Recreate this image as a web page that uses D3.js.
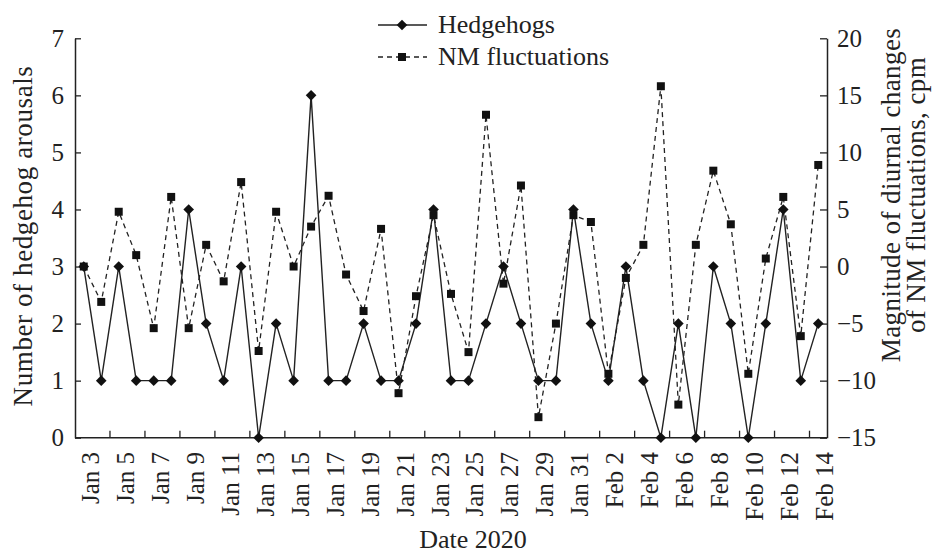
<!DOCTYPE html>
<html>
<head>
<meta charset="utf-8">
<script src="https://cdn.jsdelivr.net/npm/d3@7"></script>
<style>
  html, body { margin: 0; padding: 0; background: #fff; }
  svg { display: block; }
</style>
</head>
<body>
<svg id="chart" width="932" height="553"></svg>
<script>
// ---- Data ----
const dates = [
  "Jan 3","Jan 4","Jan 5","Jan 6","Jan 7","Jan 8","Jan 9","Jan 10","Jan 11","Jan 12",
  "Jan 13","Jan 14","Jan 15","Jan 16","Jan 17","Jan 18","Jan 19","Jan 20","Jan 21","Jan 22",
  "Jan 23","Jan 24","Jan 25","Jan 26","Jan 27","Jan 28","Jan 29","Jan 30","Jan 31",
  "Feb 1","Feb 2","Feb 3","Feb 4","Feb 5","Feb 6","Feb 7","Feb 8","Feb 9","Feb 10",
  "Feb 11","Feb 12","Feb 13","Feb 14"
];
const hedgehogs = [
  3,1,3,1,1,1,4,2,1,3,
  0,2,1,6,1,1,2,1,1,2,
  4,1,1,2,3,2,1,1,4,
  2,1,3,1,0,2,0,3,2,0,
  2,4,1,2
];
const nmFluctuations = [
  0,-3.1,4.8,1.0,-5.4,6.1,-5.4,1.9,-1.3,7.4,
  -7.4,4.8,0,3.5,6.2,-0.7,-3.9,3.3,-11.1,-2.6,
  4.5,-2.4,-7.5,13.3,-1.5,7.1,-13.2,-5.0,4.5,
  3.9,-9.4,-1.0,1.9,15.8,-12.1,1.9,8.4,3.7,-9.4,
  0.7,6.1,-6.1,8.9
];
const leftTicks = [0,1,2,3,4,5,6,7];
const rightTicks = [-15,-10,-5,0,5,10,15,20];
const seriesNames = ["Hedgehogs", "NM fluctuations"];
const xTitle = "Date 2020";
const yLeftTitle = "Number of hedgehog arousals";
const yRightTitle = ["Magnitude of diurnal changes", "of NM fluctuations, cpm"];

// ---- Layout ----
const FONT = '"Liberation Serif", "Times New Roman", serif';
const L = 75, R = 827, T = 38.3, B = 437.7;
const svg = d3.select("#chart");
const ink = "#222";

const x = d3.scaleBand().domain(dates).range([L, R]).paddingInner(0).paddingOuter(0);
const bw = x.bandwidth();
const cx = d => x(d) + bw / 2;
const yL = d3.scaleLinear().domain([0, 7]).range([B, T]);
const yR = d3.scaleLinear().domain([-15, 20]).range([B, T]);

// Left axis
const gL = svg.append("g").attr("transform", `translate(${L},0)`)
  .call(d3.axisLeft(yL).tickValues(leftTicks).tickSizeInner(-6).tickSizeOuter(0).tickPadding(11).tickFormat(d3.format("d")));
// Right axis
const gR = svg.append("g").attr("transform", `translate(${R},0)`)
  .call(d3.axisRight(yR).tickValues(rightTicks).tickSizeInner(-7).tickSizeOuter(0).tickPadding(10));
[gL, gR].forEach(g => {
  g.attr("font-family", null).attr("font-size", null);
  g.select(".domain").attr("stroke", ink).attr("stroke-width", 1.5);
  g.selectAll(".tick line").attr("stroke", ink).attr("stroke-width", 1.3);
  g.selectAll(".tick text").style("font-family", FONT).style("font-size", "25px").attr("fill", ink);
});

// Bottom axis (ticks at every second category boundary, labels at category centres)
const gB = svg.append("g");
gB.append("line").attr("x1", L).attr("x2", R).attr("y1", B).attr("y2", B)
  .attr("stroke", ink).attr("stroke-width", 1.5);
const labelled = dates.filter((d, i) => i % 2 === 0);
gB.selectAll("line.tk").data(labelled.slice(1)).join("line").attr("class", "tk")
  .attr("x1", d => x(d)).attr("x2", d => x(d)).attr("y1", B).attr("y2", B - 7)
  .attr("stroke", ink).attr("stroke-width", 1.3);
gB.selectAll("text.tl").data(labelled).join("text").attr("class", "tl")
  .attr("transform", d => `translate(${cx(d) + 15},452) rotate(-90)`)
  .attr("text-anchor", "end").style("font-family", FONT).style("font-size", "25px")
  .attr("fill", ink).text(d => d);

// Lines
const lineH = d3.line().x((d, i) => cx(dates[i])).y(d => yL(d));
const lineN = d3.line().x((d, i) => cx(dates[i])).y(d => yR(d));
svg.append("path").datum(nmFluctuations).attr("d", lineN)
  .attr("fill", "none").attr("stroke", ink).attr("stroke-width", 1.3).attr("stroke-dasharray", "5,4");
svg.append("path").datum(hedgehogs).attr("d", lineH)
  .attr("fill", "none").attr("stroke", ink).attr("stroke-width", 1.4);

// Markers
const diamond = d3.symbol().type(d3.symbolDiamond2).size(72);
const square = d3.symbol().type(d3.symbolSquare).size(64);
svg.selectAll("path.sq").data(nmFluctuations).join("path").attr("class", "sq")
  .attr("d", square).attr("fill", "#111")
  .attr("transform", (d, i) => `translate(${cx(dates[i])},${yR(d)})`);
svg.selectAll("path.dm").data(hedgehogs).join("path").attr("class", "dm")
  .attr("d", diamond).attr("fill", "#111")
  .attr("transform", (d, i) => `translate(${cx(dates[i])},${yL(d)})`);

// Legend
const lg = svg.append("g");
const legendRows = [
  { name: seriesNames[0], y: 25, dash: null, sym: diamond },
  { name: seriesNames[1], y: 57, dash: "5,4", sym: square }
];
legendRows.forEach(r => {
  lg.append("line").attr("x1", 378).attr("x2", 427).attr("y1", r.y).attr("y2", r.y)
    .attr("stroke", ink).attr("stroke-width", 1.3).attr("stroke-dasharray", r.dash);
  lg.append("path").attr("d", r.sym).attr("fill", "#111").attr("transform", `translate(402,${r.y})`);
  lg.append("text").attr("x", 438).attr("y", r.y + 8).style("font-family", FONT).style("font-size", "26px")
    .attr("fill", ink).text(r.name);
});

// Axis titles
svg.append("text").attr("x", 473).attr("y", 548).attr("text-anchor", "middle")
  .style("font-family", FONT).style("font-size", "26px").attr("fill", ink).text(xTitle);
svg.append("text").attr("transform", "translate(32,236) rotate(-90)").attr("text-anchor", "middle")
  .style("font-family", FONT).style("font-size", "27px").style("letter-spacing", "0.6px").attr("fill", ink).text(yLeftTitle);
yRightTitle.forEach((t, i) => {
  svg.append("text").attr("transform", `translate(${900 + i * 25},195) rotate(-90)`).attr("text-anchor", "middle")
    .style("font-family", FONT).style("font-size", "27px").style("letter-spacing", "0.4px").attr("fill", ink).text(t);
});
</script>
</body>
</html>
